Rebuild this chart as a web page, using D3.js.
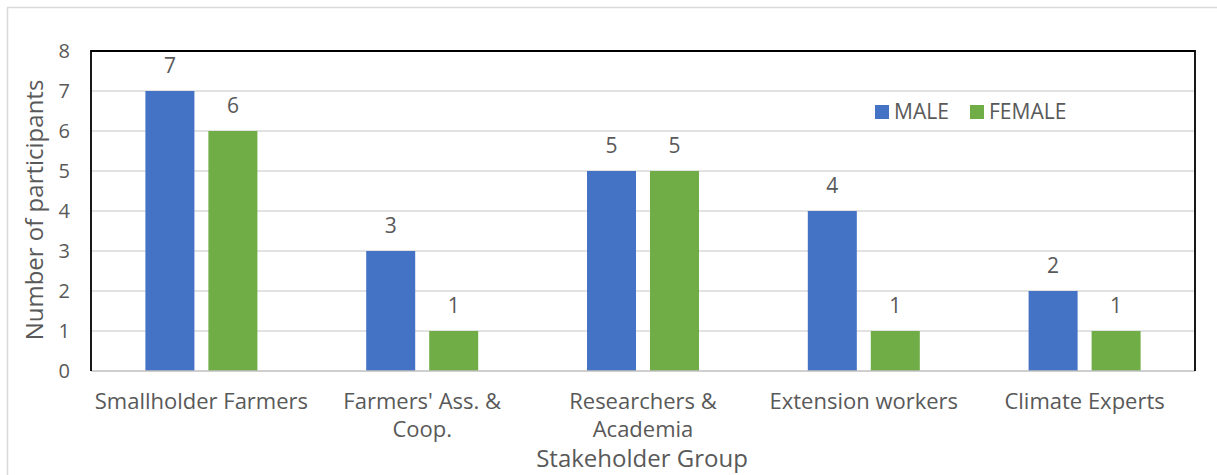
<!DOCTYPE html>
<html>
<head>
<meta charset="utf-8">
<script src="https://cdn.jsdelivr.net/npm/d3@7"></script>
<style>
  body { margin: 0; background: #fff; }
  text { font-family: "Open Sans", "Noto Sans", sans-serif; fill: #595959; }
</style>
</head>
<body>
<svg></svg>
<script>
// chart data
let categories = [["Smallholder Farmers"], ["Farmers' Ass. &", "Coop."], ["Researchers &", "Academia"], ["Extension workers"], ["Climate Experts"]];
let seriesNames = ['MALE', 'FEMALE'];
let male = [7, 3, 5, 4, 2];
let female = [6, 1, 5, 1, 1];
let yTicks = [0, 1, 2, 3, 4, 5, 6, 7, 8];
let colors = ['#4472C4', '#70AD47'];

let width = 1217, height = 475;
let plot = { left: 91, right: 1195, top: 51, bottom: 371 };

let svg = d3.select('svg')
    .attr('width', width)
    .attr('height', height);

// outer chart frame
svg.append('rect')
    .attr('x', 7.5).attr('y', 7.5)
    .attr('width', width).attr('height', height)
    .attr('fill', '#fff')
    .attr('stroke', '#d9d9d9')
    .attr('stroke-width', 1.5);

let xScale = d3.scaleBand()
    .domain(d3.range(categories.length))
    .range([plot.left, plot.right]);

let xInner = d3.scaleBand()
    .domain(seriesNames)
    .range([xScale.bandwidth() / 2 - 56, xScale.bandwidth() / 2 + 56])
    .paddingInner(0.222);

let yScale = d3.scaleLinear()
    .domain([0, 8])
    .range([plot.bottom, plot.top]);

// gridlines
svg.append('g')
    .selectAll('line')
    .data(yTicks.slice(1))
    .enter()
    .append('line')
    .attr('x1', plot.left).attr('x2', plot.right)
    .attr('y1', d => yScale(d)).attr('y2', d => yScale(d))
    .attr('stroke', '#d9d9d9')
    .attr('stroke-width', 1.5);

// bars
let rows = categories.map((c, i) => ({ i: i, values: [male[i], female[i]] }));
let groups = svg.append('g')
    .selectAll('g')
    .data(rows)
    .enter()
    .append('g')
    .attr('transform', d => `translate(${xScale(d.i)},0)`);

groups.selectAll('rect')
    .data(d => d.values.map((v, k) => ({ name: seriesNames[k], value: v, k: k })))
    .enter()
    .append('rect')
    .attr('x', d => xInner(d.name))
    .attr('width', xInner.bandwidth())
    .attr('y', d => yScale(d.value))
    .attr('height', d => yScale(0) - yScale(d.value))
    .attr('fill', d => colors[d.k]);

groups.selectAll('text')
    .data(d => d.values.map((v, k) => ({ name: seriesNames[k], value: v })))
    .enter()
    .append('text')
    .attr('x', d => xInner(d.name) + xInner.bandwidth() / 2)
    .attr('y', d => yScale(d.value) - 18)
    .attr('text-anchor', 'middle')
    .attr('font-size', 21)
    .text(d => d.value);

// x axis line (gray) and plot frame
svg.append('line')
    .attr('x1', plot.left).attr('x2', plot.right)
    .attr('y1', plot.bottom).attr('y2', plot.bottom)
    .attr('stroke', '#bfbfbf').attr('stroke-width', 1.5);

svg.append('path')
    .attr('d', `M${plot.left},${plot.bottom}V${plot.top}H${plot.right}V${plot.bottom}`)
    .attr('fill', 'none')
    .attr('stroke', '#000')
    .attr('stroke-width', 1.8);

// y axis
let yAxis = d3.axisLeft(yScale).tickValues(yTicks).tickSize(0).tickPadding(21);
let yG = svg.append('g')
    .attr('transform', `translate(${plot.left},0)`)
    .call(yAxis);
yG.select('.domain').remove();
yG.selectAll('text')
    .attr('font-size', 20)
    .attr('fill', '#595959')
    .style('font-family', '"Open Sans", sans-serif');

// x axis category labels
let xAxis = d3.axisBottom(xScale).tickSize(0).tickFormat('');
let xG = svg.append('g')
    .attr('transform', `translate(0,${plot.bottom})`)
    .call(xAxis);
xG.select('.domain').remove();
xG.selectAll('.tick')
    .append('text')
    .attr('text-anchor', 'middle')
    .attr('font-size', 22)
    .attr('fill', '#595959')
    .style('font-family', '"Open Sans", sans-serif')
    .selectAll('tspan')
    .data(d => categories[d])
    .enter()
    .append('tspan')
    .attr('x', 0)
    .attr('y', (d, k) => 38 + k * 28)
    .text(d => d);

// axis titles
svg.append('text')
    .attr('x', 642).attr('y', 467)
    .attr('text-anchor', 'middle')
    .attr('font-size', 24)
    .text('Stakeholder Group');

svg.append('text')
    .attr('transform', 'translate(43,210) rotate(-90)')
    .attr('text-anchor', 'middle')
    .attr('font-size', 24)
    .text('Number of participants');

// legend
let legend = svg.append('g')
    .attr('transform', 'translate(875,111)');
let items = legend.selectAll('g')
    .data(seriesNames)
    .enter()
    .append('g')
    .attr('transform', (d, k) => `translate(${k * 95},0)`);
items.append('rect')
    .attr('x', 0).attr('y', -6)
    .attr('width', 14).attr('height', 14)
    .attr('fill', (d, k) => colors[k]);
items.append('text')
    .attr('x', 19).attr('y', 8)
    .attr('font-size', 21)
    .text(d => d);
</script>
</body>
</html>
